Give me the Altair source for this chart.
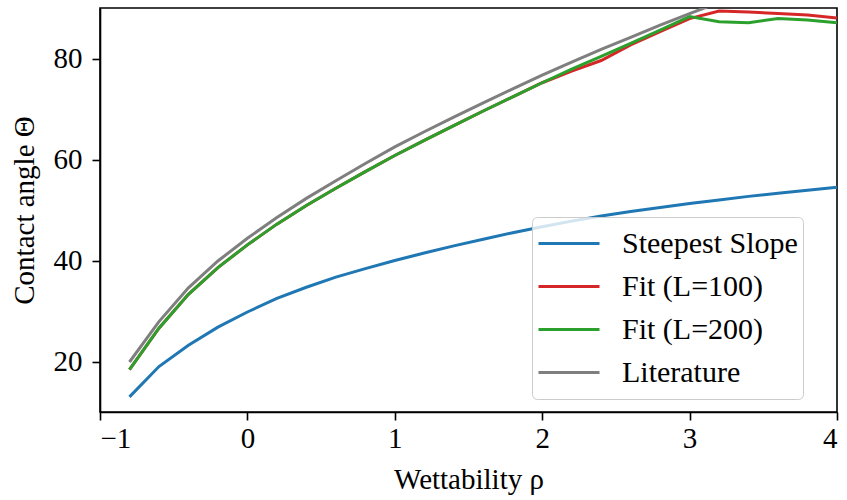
import altair as alt
import pandas as pd

rho = [-0.8, -0.6, -0.4, -0.2, 0.0, 0.2, 0.4, 0.6, 0.8, 1.0, 1.2, 1.4, 1.6,
       1.8, 2.0, 2.2, 2.4, 2.6, 2.8, 3.0, 3.2, 3.4, 3.6, 3.8, 4.0]

steepest = [13.0, 19.0, 23.2, 26.8, 29.8, 32.5, 34.7, 36.7, 38.4, 40.0, 41.5, 42.9, 44.2,
            45.5, 46.7, 47.8, 48.8, 49.7, 50.5, 51.3, 52.0, 52.7, 53.3, 53.9, 54.5]
fit100 = [18.4, 26.6, 33.3, 38.6, 43.1, 47.2, 50.9, 54.3, 57.6, 60.8, 63.8, 66.7, 69.6,
          72.4, 75.2, 77.5, 79.6, 82.7, 85.3, 87.9, 89.4, 89.2, 88.9, 88.6, 88.0]
fit200 = [18.4, 26.6, 33.3, 38.6, 43.1, 47.2, 50.9, 54.3, 57.6, 60.8, 63.8, 66.7, 69.6,
          72.4, 75.2, 77.9, 80.4, 83.0, 85.6, 88.3, 87.3, 87.1, 87.9, 87.6, 87.1]
literature = [19.9, 27.9, 34.6, 39.9, 44.4, 48.5, 52.3, 55.8, 59.2, 62.5, 65.5, 68.4, 71.2,
              74.0, 76.7, 79.3, 81.8, 84.2, 86.6, 88.9, 91.1, 93.3, 95.4, 97.5, 99.5]

series_names = ["Steepest Slope", "Fit (L=100)", "Fit (L=200)", "Literature"]
series_colors = ["#1f77b4", "#d62728", "#2ca02c", "#7f7f7f"]
x_ticks = [-1, 0, 1, 2, 3, 4]
y_ticks = [20, 40, 60, 80]

rows = []
for name, vals in zip(series_names, [steepest, fit100, fit200, literature]):
    for i, (x, y) in enumerate(zip(rho, vals)):
        rows.append({"rho": x, "theta": y, "series": name, "order": i})
df = pd.DataFrame(rows)

FONT = "Liberation Serif"

chart = alt.Chart(df).mark_line(clip=True, strokeWidth=3).encode(
    x=alt.X("rho:Q",
            scale=alt.Scale(domain=[-1, 4], nice=False, zero=False),
            axis=alt.Axis(values=x_ticks, title="Wettability ρ", format="d",
                          titleY=76, titleBaseline="alphabetic",
                          labelPadding=4)),
    y=alt.Y("theta:Q",
            scale=alt.Scale(domain=[10, 90], nice=False, zero=False),
            axis=alt.Axis(values=y_ticks, title="Contact angle Θ", format="d",
                          titleX=-76, titleY=202, titleAngle=-90,
                          titleAlign="center", titleBaseline="middle",
                          labelPadding=10)),
    color=alt.Color("series:N",
                    scale=alt.Scale(domain=series_names, range=series_colors),
                    legend=alt.Legend(title=None, orient="none",
                                      legendX=432, legendY=209,
                                      symbolType="stroke", symbolSize=3721,
                                      symbolStrokeWidth=3, labelOffset=21,
                                      clipHeight=43, rowPadding=0,
                                      padding=5, cornerRadius=5,
                                      strokeColor="#cccccc",
                                      fillColor="rgba(255,255,255,0.8)",
                                      labelFont=FONT, labelFontSize=30,
                                      labelLimit=0,
                                      labelColor="black")),
    order="order:Q",
).properties(
    width=737, height=404,
    autosize=alt.AutoSizeParams(type="none"),
    padding={"left": 100, "top": 8, "right": 10, "bottom": 88},
).configure_view(
    stroke="black", strokeWidth=1.6
).configure_axis(
    labelFont=FONT, titleFont=FONT, labelFontSize=29, titleFontSize=29,
    labelColor="black", titleColor="black", titleFontWeight="normal",
    domainColor="black", domainWidth=1.6, tickColor="black", tickWidth=1.6,
    tickSize=8, grid=False
)

chart.save("out.html", embed_options={"renderer": "svg", "actions": False})
